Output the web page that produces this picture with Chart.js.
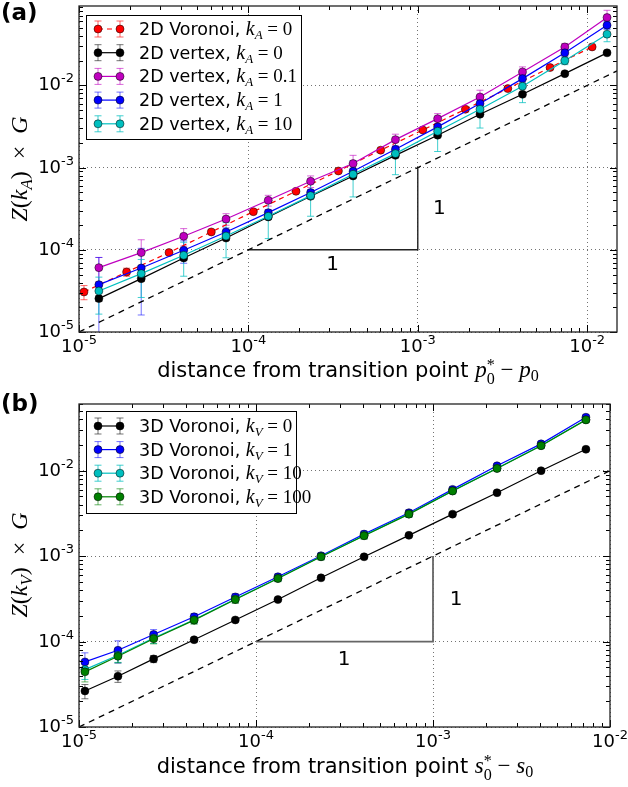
<!DOCTYPE html>
<html>
<head>
<meta charset="utf-8">
<script src="https://cdn.jsdelivr.net/npm/chart.js@4.4.1/dist/chart.umd.min.js"></script>
<style>
html,body{margin:0;padding:0;background:#fff;}
#root{position:relative;width:628px;height:787px;overflow:hidden;font-family:"DejaVu Sans",sans-serif;color:#000;}
canvas{position:absolute;left:0;}
#ca{top:0;}
#cb{top:390px;}
.plab{position:absolute;font-weight:bold;font-size:23px;line-height:1;}
.xt{position:absolute;font-size:21px;line-height:1;white-space:nowrap;transform:translate(-50%,-50%);}
.yt{position:absolute;font-size:24px;line-height:1;white-space:nowrap;transform:translate(-50%,-50%) rotate(-90deg);font-family:"Liberation Serif",serif;}
.m{font-family:"Liberation Serif",serif;font-size:23px;}
.i{font-style:italic;}
.sub{font-size:0.7em;vertical-align:-0.3em;}
.ss{display:inline-block;vertical-align:-0.45em;font-size:0.7em;line-height:0.9;text-align:left;}
.ss span{display:block;}
</style>
</head>
<body>
<div id="root">
<canvas id="ca" width="628" height="390"></canvas>
<canvas id="cb" width="628" height="397"></canvas>
<div class="plab" style="left:1px;top:1px;">(a)</div>
<div class="plab" style="left:1px;top:392px;">(b)</div>
<div class="yt" style="left:21px;top:169px;"><span class="i">Z</span>(<span class="i">k</span><span class="i sub">A</span>)&ensp;×&ensp;<span class="i">G</span></div>
<div class="yt" style="left:21px;top:565px;"><span class="i">Z</span>(<span class="i">k</span><span class="i sub">V</span>)&ensp;×&ensp;<span class="i">G</span></div>
<div class="xt" style="left:348px;top:372px;">distance from transition point <span class="m"><span class="i">p</span><span class="ss"><span>*</span><span>0</span></span> − <span class="i">p</span><span class="sub">0</span></span></div>
<div class="xt" style="left:345px;top:768px;">distance from transition point <span class="m"><span class="i">s</span><span class="ss"><span>*</span><span>0</span></span> − <span class="i">s</span><span class="sub">0</span></span></div>
</div>
<script>
// ---------- Panel (a) data ----------
const xA_vertex  = [1.31e-5, 2.33e-5, 4.15e-5, 7.38e-5, 1.31e-4, 2.33e-4, 4.15e-4, 7.38e-4, 1.31e-3, 2.33e-3, 4.15e-3, 7.38e-3, 1.31e-2];
const xA_voronoi = [1.07e-5, 1.91e-5, 3.40e-5, 6.04e-5, 1.07e-4, 1.91e-4, 3.40e-4, 6.04e-4, 1.07e-3, 1.91e-3, 3.40e-3, 6.04e-3, 1.07e-2];
const yA_voronoi = [3.07e-5, 5.37e-5, 9.25e-5, 1.65e-4, 2.91e-4, 5.15e-4, 9.10e-4, 1.63e-3, 2.87e-3, 5.13e-3, 9.14e-3, 1.65e-2, 2.94e-2];
const eA_voronoi = [6e-6, 6e-6, 5e-6, 6e-6, 8e-6, 1.2e-5, 2e-5, 4e-5, 6e-5, 1e-4, 2e-4, 4e-4, 7e-4];
const yA_k0   = [2.55e-5, 4.46e-5, 7.96e-5, 1.39e-4, 2.51e-4, 4.48e-4, 7.92e-4, 1.41e-3, 2.48e-3, 4.46e-3, 7.80e-3, 1.39e-2, 2.49e-2];
const eA_k0   = [2e-6, 3e-6, 5e-6, 8e-6, 1.2e-5, 2e-5, 3.5e-5, 6e-5, 1e-4, 1.8e-4, 3e-4, 5e-4, 9e-4];
const yA_k01  = [6.07e-5, 9.25e-5, 1.46e-4, 2.37e-4, 4.00e-4, 6.82e-4, 1.12e-3, 2.19e-3, 3.94e-3, 7.24e-3, 1.46e-2, 2.94e-2, 6.70e-2];
const eA_k01  = [2.0e-5, 4.0e-5, 3.5e-5, 3.8e-5, 6e-5, 1.1e-4, 2.9e-4, 3.6e-4, 6e-4, 1.5e-3, 2.2e-3, 3e-3, 1.5e-2];
const yA_k1   = [3.77e-5, 6.01e-5, 9.86e-5, 1.65e-4, 2.83e-4, 4.97e-4, 9.02e-4, 1.67e-3, 3.13e-3, 6.01e-3, 1.21e-2, 2.49e-2, 5.40e-2];
const eA_k1   = [4.3e-5, 4.4e-5, 3.0e-5, 2.0e-5, 2.5e-5, 4e-5, 8e-5, 1.5e-4, 3e-4, 6e-4, 1.2e-3, 2.5e-3, 6e-3];
const yA_k10  = [3.15e-5, 5.13e-5, 8.57e-5, 1.47e-4, 2.56e-4, 4.56e-4, 8.30e-4, 1.48e-3, 2.77e-3, 5.13e-3, 9.77e-3, 1.99e-2, 4.20e-2];
const eA_k10  = [1.5e-5, 2.5e-5, 3.8e-5, 6.7e-5, 1.19e-4, 2.0e-4, 3.9e-4, 6.6e-4, 1.2e-3, 2.1e-3, 3.6e-3, 2e-3, 8e-3];
const namesA  = ['2D Voronoi', '2D vertex', '2D vertex', '2D vertex', '2D vertex'];
const kA      = ['0', '0', '0.1', '1', '10'];
const refLineA = [[1e-5, 1e-5], [1.5e-2, 1.5e-2]];
const triA     = [[1e-4, 1e-4], [1e-3, 1e-4], [1e-3, 1e-3]];
const slopeTextA = [[3.14e-4, 6.5e-5, '1'], [1.34e-3, 3.17e-4, '1']];

// ---------- Panel (b) data ----------
const xB      = [1.08e-5, 1.66e-5, 2.64e-5, 4.47e-5, 7.64e-5, 1.33e-4, 2.33e-4, 4.08e-4, 7.31e-4, 1.29e-3, 2.30e-3, 4.08e-3, 7.31e-3];
const yB_k0   = [2.64e-5, 3.93e-5, 6.27e-5, 1.05e-4, 1.79e-4, 3.10e-4, 5.57e-4, 9.82e-4, 1.75e-3, 3.10e-3, 5.52e-3, 1.00e-2, 1.78e-2];
const eB_k0   = [5e-6, 6e-6, 6e-6, 6e-6, 8e-6, 1e-5, 1.5e-5, 3e-5, 5e-5, 8e-5, 1.5e-4, 2.5e-4, 5e-4];
const yB_k1   = [5.78e-5, 7.90e-5, 1.21e-4, 1.95e-4, 3.33e-4, 5.73e-4, 1.01e-3, 1.81e-3, 3.22e-3, 6.04e-3, 1.14e-2, 2.06e-2, 4.22e-2];
const eB_k1   = [1.6e-5, 2.3e-5, 1.7e-5, 1.8e-5, 3e-5, 4.5e-5, 8e-5, 1.5e-4, 2.5e-4, 4e-4, 7e-4, 1.2e-3, 2.5e-3];
const yB_k10  = [4.70e-5, 6.90e-5, 1.10e-4, 1.80e-4, 3.15e-4, 5.50e-4, 9.90e-4, 1.75e-3, 3.12e-3, 5.80e-3, 1.07e-2, 1.97e-2, 3.95e-2];
const eB_k10  = [1.1e-5, 1.2e-5, 1.5e-5, 1.8e-5, 3e-5, 4.5e-5, 8e-5, 1.5e-4, 2.5e-4, 4e-4, 7e-4, 1.2e-3, 2.5e-3];
const yB_k100 = [4.42e-5, 6.73e-5, 1.08e-4, 1.78e-4, 3.10e-4, 5.47e-4, 9.82e-4, 1.73e-3, 3.10e-3, 5.78e-3, 1.06e-2, 1.96e-2, 3.93e-2];
const eB_k100 = [1.05e-5, 1.1e-5, 1.4e-5, 1.8e-5, 3e-5, 4.5e-5, 8e-5, 1.5e-4, 2.5e-4, 4e-4, 7e-4, 1.2e-3, 2.5e-3];
const namesB  = ['3D Voronoi', '3D Voronoi', '3D Voronoi', '3D Voronoi'];
const kV      = ['0', '1', '10', '100'];
const refLineB = [[1e-5, 1e-5], [1e-2, 1e-2]];
const triB     = [[1e-4, 1e-4], [1e-3, 1e-4], [1e-3, 1e-3]];
const slopeTextB = [[3.15e-4, 6.15e-5, '1'], [1.35e-3, 3.1e-4, '1']];

// ---------- helpers ----------
const SANS = '"DejaVu Sans", sans-serif';
const SERIF = '"Liberation Serif", serif';
const pts = (xs, ys) => xs.map((x, i) => ({x, y: ys[i]}));
const pairs = arr => arr.map(p => ({x: p[0], y: p[1]}));
const isPow10 = v => { const l = Math.log10(v); return Math.abs(l - Math.round(l)) < 1e-9; };
function logTicks(min, max) {
  const t = [];
  for (let e = Math.floor(Math.log10(min)); e <= Math.ceil(Math.log10(max)); e++) {
    for (let m = 1; m < 10; m++) {
      const v = m * Math.pow(10, e);
      if (v >= min * 0.9999 && v <= max * 1.0001) t.push(v);
    }
  }
  return t;
}
function segWidth(ctx, segs) { let w = 0; for (const s of segs) { ctx.font = s[1]; w += ctx.measureText(s[0]).width; } return w; }
function drawSegs(ctx, x, y, segs) { for (const s of segs) { ctx.font = s[1]; ctx.fillText(s[0], x, y + (s[2] || 0)); x += ctx.measureText(s[0]).width; } return x; }

function series(label, xs, ys, errs, color, errColor, dash, order) {
  return {label, data: pts(xs, ys), err: errs, errColor, borderColor: color, backgroundColor: color,
    pointBackgroundColor: color, pointBorderColor: 'rgba(0,0,0,0.85)', pointBorderWidth: 0.6,
    pointRadius: 4, borderWidth: 1.2, borderDash: dash || [], tension: 0, order};
}
function guide(data, color, width, dash) {
  return {label: '', data: pairs(data), borderColor: color, borderWidth: width, borderDash: dash,
    pointRadius: 0, tension: 0, order: 100, isGuide: true};
}

const decor = {
  id: 'decor',
  beforeDatasetsDraw(chart) {
    const {ctx, chartArea: a, scales: {x, y}} = chart;
    ctx.save();
    ctx.beginPath(); ctx.rect(a.left, a.top, a.right - a.left, a.bottom - a.top); ctx.clip();
    ctx.setLineDash([]); ctx.lineWidth = 1;
    chart.data.datasets.forEach(ds => {
      if (!ds.err) return;
      ctx.strokeStyle = ds.errColor;
      ds.data.forEach((p, i) => {
        const e = ds.err[i];
        const px = x.getPixelForValue(p.x);
        const hi = y.getPixelForValue(p.y + e);
        const lo = (p.y - e > 0) ? y.getPixelForValue(p.y - e) : a.bottom + 20;
        ctx.beginPath();
        ctx.moveTo(px, hi); ctx.lineTo(px, lo);
        ctx.moveTo(px - 3.5, hi); ctx.lineTo(px + 3.5, hi);
        ctx.moveTo(px - 3.5, lo); ctx.lineTo(px + 3.5, lo);
        ctx.stroke();
      });
    });
    ctx.restore();
  },
  afterDraw(chart, args, o) {
    const {ctx, chartArea: a, scales: {x, y}} = chart;
    ctx.save();
    ctx.setLineDash([]);
    // inward ticks on all four sides
    ctx.strokeStyle = '#000'; ctx.lineWidth = 1;
    ctx.beginPath();
    logTicks(x.min, x.max).forEach(v => {
      const p = Math.round(x.getPixelForValue(v)) + 0.5, L = isPow10(v) ? 7 : 4;
      ctx.moveTo(p, a.bottom); ctx.lineTo(p, a.bottom - L);
      ctx.moveTo(p, a.top); ctx.lineTo(p, a.top + L);
    });
    logTicks(y.min, y.max).forEach(v => {
      const p = Math.round(y.getPixelForValue(v)) + 0.5, L = isPow10(v) ? 7 : 4;
      ctx.moveTo(a.left, p); ctx.lineTo(a.left + L, p);
      ctx.moveTo(a.right, p); ctx.lineTo(a.right - L, p);
    });
    ctx.stroke();
    // frame
    ctx.strokeStyle = '#222'; ctx.lineWidth = 1.3;
    ctx.strokeRect(a.left, a.top, a.right - a.left, a.bottom - a.top);
    // tick labels
    ctx.fillStyle = '#000'; ctx.textAlign = 'left'; ctx.textBaseline = 'alphabetic';
    const lab = e => [['10', '18px ' + SANS, 0], [String(e), '13px ' + SANS, -8]];
    logTicks(x.min, x.max).filter(isPow10).forEach(v => {
      const s = lab(Math.round(Math.log10(v)));
      const w = segWidth(ctx, s);
      drawSegs(ctx, x.getPixelForValue(v) - w / 2, a.bottom + 20, s);
    });
    logTicks(y.min, y.max).filter(isPow10).forEach(v => {
      const s = lab(Math.round(Math.log10(v)));
      const w = segWidth(ctx, s);
      drawSegs(ctx, a.left - 5 - w, y.getPixelForValue(v) + 5, s);
    });
    // slope labels
    ctx.font = '20px ' + SANS; ctx.textAlign = 'center'; ctx.textBaseline = 'middle';
    (o.notes || []).forEach(n => ctx.fillText(n[2], x.getPixelForValue(n[0]), y.getPixelForValue(n[1])));
    // legend
    const L = o.legend;
    if (L) {
      ctx.fillStyle = '#fff'; ctx.fillRect(L.x0, L.y0, L.x1 - L.x0, L.y1 - L.y0);
      ctx.strokeStyle = '#000'; ctx.lineWidth = 1;
      ctx.strokeRect(L.x0 + 0.5, L.y0 + 0.5, L.x1 - L.x0, L.y1 - L.y0);
      const sets = chart.data.datasets.filter(d => !d.isGuide);
      sets.forEach((ds, i) => {
        const ry = L.row0 + i * L.dy;
        ctx.setLineDash([]);
        ctx.strokeStyle = ds.errColor; ctx.lineWidth = 1;
        [L.m0, L.m1].forEach(mx => {
          ctx.beginPath();
          ctx.moveTo(mx, ry - 8); ctx.lineTo(mx, ry + 8);
          ctx.moveTo(mx - 3.5, ry - 8); ctx.lineTo(mx + 3.5, ry - 8);
          ctx.moveTo(mx - 3.5, ry + 8); ctx.lineTo(mx + 3.5, ry + 8);
          ctx.stroke();
        });
        ctx.strokeStyle = ds.borderColor; ctx.lineWidth = 1.2; ctx.setLineDash(ds.borderDash || []);
        ctx.beginPath(); ctx.moveTo(L.m0, ry); ctx.lineTo(L.m1, ry); ctx.stroke();
        ctx.setLineDash([]);
        [L.m0, L.m1].forEach(mx => {
          ctx.beginPath(); ctx.arc(mx, ry, 4, 0, Math.PI * 2);
          ctx.fillStyle = ds.backgroundColor; ctx.fill();
          ctx.strokeStyle = 'rgba(0,0,0,0.85)'; ctx.lineWidth = 0.6; ctx.stroke();
        });
        ctx.fillStyle = '#000'; ctx.textAlign = 'left'; ctx.textBaseline = 'alphabetic';
        drawSegs(ctx, L.tx, ry + 6, [
          [L.names[i] + ', ', '17.5px ' + SANS, 0],
          ['k', 'italic 20px ' + SERIF, 0],
          [L.sub, 'italic 13px ' + SERIF, 4],
          [' = ' + L.vals[i], '19px ' + SERIF, 0]
        ]);
      });
    }
    ctx.restore();
  }
};

function logAxis(min, max, fit, horizontal) {
  return {
    type: 'logarithmic', min, max,
    afterBuildTicks: s => { s.ticks = logTicks(min, max).map(v => ({value: v})); },
    afterFit: s => { if (horizontal) s.height = fit; else s.width = fit; },
    ticks: {display: false, autoSkip: false},
    grid: {color: c => (c.tick && isPow10(c.tick.value)) ? 'rgba(0,0,0,0.55)' : 'rgba(0,0,0,0)', lineWidth: 1, drawTicks: false},
    border: {display: false, dash: [1, 3]}
  };
}

function makeChart(id, datasets, xmax, ymax, xFit, pad, notes, legend) {
  return new Chart(document.getElementById(id), {
    type: 'line',
    data: {datasets},
    options: {
      responsive: false, animation: false, events: [],
      layout: {padding: pad},
      scales: {x: logAxis(1e-5, xmax, xFit, true), y: logAxis(1e-5, ymax, 79, false)},
      plugins: {legend: {display: false}, tooltip: {enabled: false}, decor: {notes, legend}}
    },
    plugins: [decor]
  });
}

const redErr = 'rgba(255,0,0,0.6)', blkErr = 'rgba(0,0,0,0.55)', magErr = 'rgba(191,0,191,0.6)',
      bluErr = 'rgba(0,0,255,0.55)', cyaErr = 'rgba(0,191,191,0.75)', grnErr = 'rgba(0,128,0,0.6)';

makeChart('ca', [
  series(namesA[0], xA_voronoi, yA_voronoi, eA_voronoi, '#ff0000', redErr, [5, 4], 5),
  series(namesA[1], xA_vertex, yA_k0, eA_k0, '#000000', blkErr, [], 4),
  series(namesA[2], xA_vertex, yA_k01, eA_k01, '#bf00bf', magErr, [], 3),
  series(namesA[3], xA_vertex, yA_k1, eA_k1, '#0000ff', bluErr, [], 2),
  series(namesA[4], xA_vertex, yA_k10, eA_k10, '#00bfbf', cyaErr, [], 1),
  guide(refLineA, '#000', 1.3, [6, 5]),
  guide(triA, '#222', 1.4, [])
], 1.5e-2, 0.0925, 58, {top: 6, right: 11, left: 0, bottom: 0}, slopeTextA,
  {x0: 86, y0: 15, x1: 301, y1: 139, row0: 29, dy: 23.7, m0: 98, m1: 120, tx: 139, names: namesA, vals: kA, sub: 'A'});

makeChart('cb', [
  series(namesB[0], xB, yB_k0, eB_k0, '#000000', blkErr, [], 4),
  series(namesB[1], xB, yB_k1, eB_k1, '#0000ff', bluErr, [], 3),
  series(namesB[2], xB, yB_k10, eB_k10, '#00bfbf', cyaErr, [], 2),
  series(namesB[3], xB, yB_k100, eB_k100, '#008000', grnErr, [], 1),
  guide(refLineB, '#000', 1.3, [6, 5]),
  guide(triB, '#666', 1.8, [])
], 1e-2, 0.0603, 60, {top: 14, right: 18, left: 0, bottom: 0}, slopeTextB,
  {x0: 86, y0: 21, x1: 296, y1: 123, row0: 36, dy: 23.6, m0: 98, m1: 120, tx: 139, names: namesB, vals: kV, sub: 'V'});
</script>
</body>
</html>
